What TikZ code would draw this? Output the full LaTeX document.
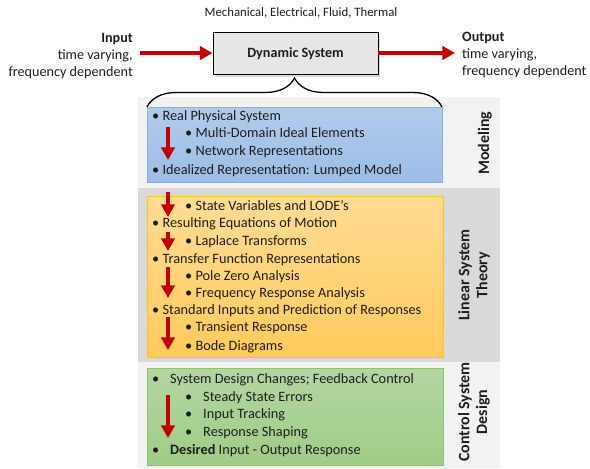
\documentclass[tikz,border=0pt]{standalone}
\usepackage{fontspec}
\setmainfont{Carlito}
\usetikzlibrary{arrows.meta}
\usetikzlibrary{shadows}
\usetikzlibrary{decorations.pathreplacing}

\definecolor{flowred}{HTML}{C00000}
\definecolor{panellight}{HTML}{F2F2F2}
\definecolor{paneldark}{HTML}{D9D9D9}
\definecolor{sysgray}{HTML}{E7E6E6}
\definecolor{inktext}{HTML}{1E1E1E}
\definecolor{modeltop}{HTML}{B2CBEB}
\definecolor{modelbot}{HTML}{9BBDE6}
\definecolor{modeledge}{HTML}{84AFE2}
\definecolor{theorytop}{HTML}{FFDC94}
\definecolor{theorybot}{HTML}{FFCA5C}
\definecolor{theoryedge}{HTML}{FFC41E}
\definecolor{designtop}{HTML}{B3D6A2}
\definecolor{designbot}{HTML}{9FCC86}
\definecolor{designedge}{HTML}{8CC571}

\tikzset{
  item/.style = {anchor = west, inner sep = 0pt, text height = 1.6ex,
    text depth = 0.4ex, text = inktext, font = \fontsize{12.2}{14.5}\selectfont},
  label/.style = {inner sep = 0pt, text = inktext,
    font = \fontsize{12.1}{14.5}\selectfont},
  flow/.style = {draw = flowred, line width = 0.12cm,
    -{Triangle[length = 0.38cm, width = 0.4cm]}},
  side/.style = {rotate = 90, align = center, inner sep = 0pt, text = inktext,
    font = \fontsize{13.6}{15.3}\selectfont\bfseries},
}

\newcommand{\gbul}{\makebox[0.54cm][l]{\textbullet}}

\begin{document}
\begin{tikzpicture}[x = 0.03cm, y = -0.03cm]
  \useasboundingbox (0, 0) rectangle (590, 468);

  % top row
  \node[label, font = \fontsize{10.9}{12}\selectfont] (domains) at (301, 13)
  {Mechanical, Electrical, Fluid, Thermal};
  \node[draw, fill = sysgray, line width = 0.8pt, minimum width = 4.95cm,
  minimum height = 1.26cm, text = inktext,
  font = \fontsize{12.1}{14.5}\selectfont\bfseries,
  drop shadow = {shadow xshift = 0.07cm, shadow yshift = -0.07cm,
    opacity = 0.3}] (dyn) at (295.5, 53.5) {Dynamic System};
  \node[label, align = right, anchor = east] (input) at (133, 56)
  {\textbf{Input}\\time varying,\\frequency dependent};
  \node[label, align = left, anchor = west] (output) at (462, 55)
  {\textbf{Output}\\time varying,\\frequency dependent};
  \coordinate (in) at (140, 53);
  \coordinate (out) at (455, 53);
  \draw[flow] (in) -- (dyn.west |- in);
  \draw[flow] (dyn.east |- out) -- (out);

  % panel
  \fill[panellight] (138, 97) rectangle (500, 188);
  \fill[paneldark] (138, 188) rectangle (500, 362);
  \fill[panellight] (138, 362) rectangle (500, 468);

  \draw[decorate, decoration = {brace, amplitude = 0.87cm}, line width = 1.1pt]
  (147, 107) -- (442, 107);

  \draw[draw = modeledge, top color = modeltop, bottom color = modelbot,
  line width = 0.7pt] (147, 107) rectangle (442, 182);
  \draw[draw = theoryedge, top color = theorytop, bottom color = theorybot,
  line width = 0.7pt] (147, 196) rectangle (443, 357);
  \draw[draw = designedge, top color = designtop, bottom color = designbot,
  line width = 0.7pt] (147, 368) rectangle (443, 465);

  % modeling
  \node[item] (m1) at (152, 117) {\textbullet\ Real Physical System};
  \node[item] (m2) at (185, 134) {\textbullet\ Multi-Domain Ideal Elements};
  \node[item] (m3) at (185, 152) {\textbullet\ Network Representations};
  \node[item] (m4) at (152, 171)
  {\textbullet\ Idealized Representation: Lumped Model};
  \draw[flow] (168, 127) -- (168, 160);

  % linear system theory
  \node[item] (l1) at (185, 207) {\textbullet\ State Variables and LODE’s};
  \node[item] (l2) at (152, 224) {\textbullet\ Resulting Equations of Motion};
  \node[item] (l3) at (185, 242) {\textbullet\ Laplace Transforms};
  \node[item] (l4) at (152, 260)
  {\textbullet\ Transfer Function Representations};
  \node[item] (l5) at (185, 277) {\textbullet\ Pole Zero Analysis};
  \node[item] (l6) at (185, 294) {\textbullet\ Frequency Response Analysis};
  \node[item] (l7) at (152, 311)
  {\textbullet\ Standard Inputs and Prediction of Responses};
  \node[item] (l8) at (185, 328) {\textbullet\ Transient Response};
  \node[item] (l9) at (185, 347) {\textbullet\ Bode Diagrams};
  \draw[flow] (168, 192) -- (168, 217);
  \draw[flow] (168, 232) -- (168, 251);
  \draw[flow] (168, 267) -- (168, 298);
  \draw[flow] (168, 317) -- (168, 350);

  % control system design
  \node[item] (c1) at (152, 380) {\gbul System Design Changes; Feedback Control};
  \node[item] (c2) at (185, 398) {\gbul Steady State Errors};
  \node[item] (c3) at (185, 415) {\gbul Input Tracking};
  \node[item] (c4) at (185, 433) {\gbul Response Shaping};
  \node[item] (c5) at (152, 451)
  {\gbul \textbf{Desired} Input - Output Response};
  \draw[flow] (168, 395) -- (168, 438);

  \node[side] (modeling) at (485, 143) {Modeling};
  \node[side] (theory) at (474, 275) {Linear System\\Theory};
  \node[side] (design) at (474, 412) {Control System\\Design};
\end{tikzpicture}
\end{document}
